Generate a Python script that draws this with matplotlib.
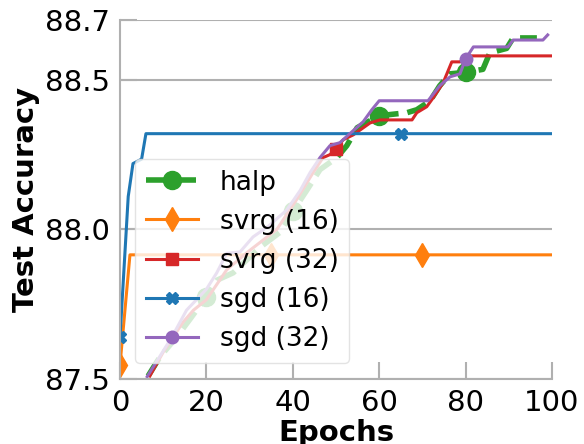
import numpy as np
import matplotlib
matplotlib.use('Agg')
import matplotlib.pyplot as plt

halp_epochs = [6.5, 9.3, 13.1, 16.2, 20, 22.4, 26.2, 32.4, 37, 40, 43.2, 46.3, 50.2, 52.5, 54.9,
               60, 66.4, 68.7, 71.8, 74, 76.4, 80, 84, 85.6, 89.5, 91, 96.5]
halp_acc = [87.51, 87.575, 87.64, 87.70, 87.775, 87.83, 87.855, 87.94, 87.99, 88.06, 88.13, 88.20, 88.24, 88.28, 88.34,
            88.38, 88.39, 88.40, 88.43, 88.48, 88.52, 88.525, 88.535, 88.59, 88.605, 88.64, 88.64]

svrg16_epochs = [0, 2.3, 35, 70, 100]
svrg16_acc = [87.547, 87.915, 87.915, 87.915, 87.915]

svrg32_epochs = [6.9, 10, 14.6, 17, 20, 24.7, 29.6, 36.3, 40.9, 44.7, 47, 48.6, 50, 51.7, 54, 57.9, 60.2,
                 67.6, 68.7, 71, 72.5, 74.8, 76.8, 78.7, 80.2, 100]
svrg32_acc = [87.51, 87.59, 87.69, 87.73, 87.765, 87.865, 87.925, 88.0, 88.10, 88.19, 88.24, 88.25, 88.27, 88.30, 88.316, 88.356, 88.366,
              88.366, 88.39, 88.41, 88.44, 88.49, 88.56, 88.56, 88.58, 88.58]

sgd16_epochs = [0, 1.9, 3, 5, 6, 65, 100]
sgd16_acc = [87.64, 88.11, 88.22, 88.235, 88.32, 88.32, 88.32]

sgd32_epochs = [6.3, 12, 15.4, 20, 22.4, 24.7, 27.8, 30.8, 34.3, 38.6, 41.7, 44, 46.3, 48.6, 50.9, 53.2, 56.3,
                58.3, 60, 71.3, 74, 76.4, 78.7, 80, 81.8, 89.8, 91, 97.9, 99]
sgd32_acc = [87.508, 87.64, 87.73, 87.80, 87.855, 87.92, 87.925, 87.975, 88.01, 88.065, 88.13, 88.19, 88.24, 88.28, 88.29, 88.32, 88.36,
             88.40, 88.43, 88.43, 88.48, 88.51, 88.52, 88.57, 88.61, 88.61, 88.633, 88.633, 88.65]

x_ticks = [0, 20, 40, 60, 80, 100]
y_ticks = [87.5, 88.0, 88.5, 88.7]
y_ticklabels = ['87.5', '88.0', '88.5', '88.7']

GRAY = '#b0b0b0'


def marks(epochs, where):
    e = np.asarray(epochs)
    return [int(np.argmin(np.abs(e - w))) for w in where]


fig = plt.figure(figsize=(5.84, 4.44), dpi=100)
ax = fig.add_axes([0.2055, 0.1464, 0.7397, 0.8086])

ax.plot(halp_epochs, halp_acc, color='#2ca02c', ls='--', lw=4, marker='o', ms=13,
        markevery=marks(halp_epochs, [20, 40, 60, 80]), label='halp')
ax.plot(svrg16_epochs, svrg16_acc, color='#ff7f0e', lw=2.2, marker='d', ms=12,
        markevery=marks(svrg16_epochs, [0, 35, 70]), label='svrg (16)')
ax.plot(svrg32_epochs, svrg32_acc, color='#d62728', lw=2.2, marker='s', ms=8,
        markevery=marks(svrg32_epochs, [50]), label='svrg (32)')
ax.plot(sgd16_epochs, sgd16_acc, color='#1f77b4', lw=2.2, marker='X', ms=8,
        markevery=marks(sgd16_epochs, [0, 65]), label='sgd (16)')
ax.plot(sgd32_epochs, sgd32_acc, color='#9467bd', lw=2.2, marker='o', ms=9,
        markevery=marks(sgd32_epochs, [12, 80]), label='sgd (32)')

ax.set_xlim(0, 100)
ax.set_ylim(87.5, 88.7)
ax.set_xticks(x_ticks)
ax.set_yticks(y_ticks)
ax.set_yticklabels(y_ticklabels)
ax.tick_params(direction='in', length=12, width=1.5, color=GRAY, labelsize=21, pad=7)
ax.yaxis.grid(True, color=GRAY, lw=1.5)
ax.set_axisbelow(True)
for s in ['top', 'right']:
    ax.spines[s].set_visible(False)
for s in ['left', 'bottom']:
    ax.spines[s].set_color(GRAY)
    ax.spines[s].set_linewidth(1.5)

ax.set_xlabel('Epochs', fontsize=21, fontweight='bold', labelpad=2)
ax.set_ylabel('Test Accuracy', fontsize=21, fontweight='bold')

leg = ax.legend(loc='lower left', bbox_to_anchor=(0.035, 0.045), borderaxespad=0,
                fontsize=19, framealpha=0.8, edgecolor='#dddddd', handlelength=2.0)

fig.savefig('out.png', dpi=100)
